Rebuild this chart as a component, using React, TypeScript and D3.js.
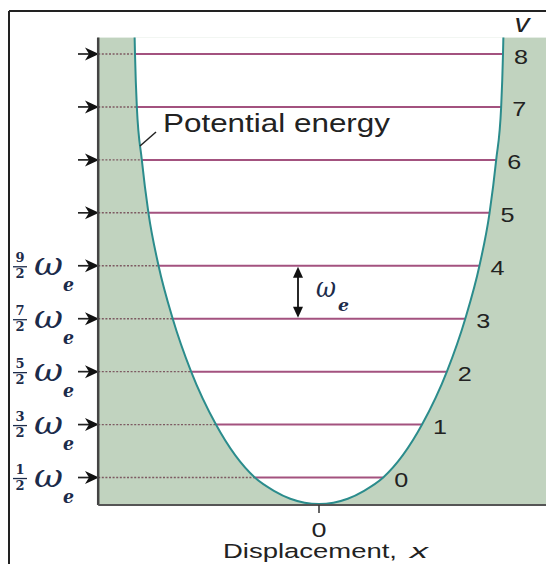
import React from "react";
import * as d3 from "d3";

// Vibrational quantum numbers and energies (in units of ω_e)
const levels = [0, 1, 2, 3, 4, 5, 6, 7, 8];
const fractionLabels = ["1", "3", "5", "7", "9"]; // numerators of (v + 1/2)

// Potential-energy wall: energy and half-width (displacement) of the well
const wallEnergy = [0, 0.1, 0.25, 0.5, 1.5, 2.5, 3.5, 4.5, 5.5, 6.5, 7.5, 8.5, 8.81];
const wallHalfWidth = [0, 0.156, 0.245, 0.349, 0.56, 0.695, 0.795, 0.872, 0.927, 0.963, 0.99, 1.0, 1.002];

const W = 546;
const H = 564;

const x = d3.scaleLinear().domain([-1, 1]).range([135, 503]);
const y = d3.scaleLinear().domain([0, 8.5]).range([504, 54]);

const X_MIN = -1.2;
const X_MAX = 1.24;
const E_TOP = 8.81;

const halfWidthAt = d3.scaleLinear().domain(wallEnergy).range(wallHalfWidth);

const INK = "#1c2b4a";
const SHADE = "#c1d3bf";
const WALL = "#2b8c8c";
const LEVEL = "#a3527f";

function Arrow({ yy }: { yy: number }) {
  const tip = 99;
  return (
    <g>
      <line x1={78} x2={92} y1={yy} y2={yy} stroke="#222" strokeWidth={1.7} />
      <path
        d={`M${tip},${yy} L${tip - 14},${yy - 6.5} L${tip - 10},${yy} L${tip - 14},${yy + 6.5} Z`}
        fill="#111"
      />
    </g>
  );
}

export default function App() {
  const wallPts: [number, number][] = [];
  for (let i = wallEnergy.length - 1; i >= 0; i--) {
    wallPts.push([-wallHalfWidth[i], wallEnergy[i]]);
  }
  for (let i = 1; i < wallEnergy.length; i++) {
    wallPts.push([wallHalfWidth[i], wallEnergy[i]]);
  }
  const line = d3
    .line<[number, number]>()
    .x((d) => x(d[0]))
    .y((d) => y(d[1]))
    .curve(d3.curveMonotoneX);
  const wallPath = line(wallPts) || "";

  return (
    <svg
      width={W}
      height={H}
      style={{ position: "absolute", left: 0, top: 0, background: "#fff" }}
      fontFamily="'Liberation Sans', Arial, sans-serif"
    >
      <rect x={0} y={0} width={W} height={H} fill="#fff" />
      {/* frame */}
      <line x1={9} x2={W} y1={11} y2={11} stroke="#222" strokeWidth={2} />
      <line x1={9} x2={9} y1={11} y2={H} stroke="#222" strokeWidth={2} />

      {/* shaded region outside the well */}
      <rect
        x={x(X_MIN)}
        y={y(E_TOP)}
        width={x(X_MAX) - x(X_MIN)}
        height={y(0) - y(E_TOP)}
        fill={SHADE}
      />
      <path d={wallPath + "Z"} fill="#fff" />

      {/* energy levels */}
      {levels.map((v) => {
        const E = v + 0.5;
        const hw = halfWidthAt(E);
        return (
          <g key={v}>
            <line
              x1={x(X_MIN)}
              x2={x(-hw)}
              y1={y(E)}
              y2={y(E)}
              stroke="#7d5a62"
              strokeWidth={1.4}
              strokeDasharray="2 1.6"
            />
            <line x1={x(-hw)} x2={x(hw)} y1={y(E)} y2={y(E)} stroke={LEVEL} strokeWidth={2} />
            <text
              x={x(hw) + 11}
              y={y(E) + 2}
              fontSize={21}
              dominantBaseline="central"
              textLength={14}
              lengthAdjust="spacingAndGlyphs"
              fill="#222"
            >
              {v}
            </text>
            <Arrow yy={y(E)} />
          </g>
        );
      })}

      {/* potential wall */}
      <path d={wallPath} fill="none" stroke={WALL} strokeWidth={2} />

      {/* axes */}
      <line x1={x(X_MIN)} x2={x(X_MIN)} y1={y(E_TOP)} y2={y(0) + 1} stroke="#444" strokeWidth={2.5} />
      <line x1={x(X_MIN)} x2={W} y1={y(0) + 1} y2={y(0) + 1} stroke="#555" strokeWidth={2} />
      <line x1={x(0)} x2={x(0)} y1={y(0) + 1} y2={y(0) + 9} stroke="#333" strokeWidth={1.5} />
      <text
        x={x(0)}
        y={537}
        fontSize={21}
        textAnchor="middle"
        textLength={15}
        lengthAdjust="spacingAndGlyphs"
        fill="#222"
      >
        0
      </text>
      <text x={223} y={558} fontSize={20.5} textLength={174} lengthAdjust="spacingAndGlyphs" fill="#222">
        Displacement,
      </text>
      <text
        x={410}
        y={558}
        fontSize={20.5}
        fontStyle="italic"
        textLength={18}
        lengthAdjust="spacingAndGlyphs"
        fill="#222"
      >
        x
      </text>

      {/* quantum number heading */}
      <text
        x={522}
        y={32}
        fontSize={26}
        fontStyle="italic"
        textAnchor="middle"
        textLength={15}
        lengthAdjust="spacingAndGlyphs"
        fill="#222"
      >
        v
      </text>

      {/* potential energy label */}
      <line x1={140} y1={146} x2={156} y2={132} stroke="#222" strokeWidth={1.5} />
      <text x={163} y={132} fontSize={25} textLength={227} lengthAdjust="spacingAndGlyphs" fill="#222">
        Potential energy
      </text>

      {/* energy labels (v + 1/2) ω_e */}
      {fractionLabels.map((num, i) => {
        const yy = y(i + 0.5);
        return (
          <g key={num} fontFamily="'DejaVu Serif', serif" fill={INK}>
            <text x={20} y={yy - 4} fontSize={13} fontWeight="bold" textAnchor="middle">
              {num}
            </text>
            <line x1={13} x2={27} y1={yy + 1} y2={yy + 1} stroke={INK} strokeWidth={1.3} />
            <text x={20} y={yy + 12} fontSize={13} fontWeight="bold" textAnchor="middle">
              2
            </text>
            <text
              x={34}
              y={yy + 9}
              fontSize={31}
              fontStyle="italic"
              textLength={29}
              lengthAdjust="spacingAndGlyphs"
            >
              ω
            </text>
            <text
              x={63}
              y={yy + 25}
              fontSize={18}
              fontStyle="italic"
              fontWeight="bold"
              textLength={11}
              lengthAdjust="spacingAndGlyphs"
            >
              e
            </text>
          </g>
        );
      })}

      {/* spacing indicator between levels 3 and 4 */}
      {(() => {
        const yTop = y(4.5) + 1;
        const yBot = y(3.5) - 1;
        const ax = 298;
        return (
          <g>
            <line x1={ax} x2={ax} y1={yTop + 6} y2={yBot - 6} stroke="#111" strokeWidth={1.8} />
            <path d={`M${ax},${yTop} L${ax - 5},${yTop + 11} L${ax + 5},${yTop + 11} Z`} fill="#111" />
            <path d={`M${ax},${yBot} L${ax - 5},${yBot - 11} L${ax + 5},${yBot - 11} Z`} fill="#111" />
            <g fontFamily="'DejaVu Serif', serif" fill={INK}>
              <text x={316} y={297} fontSize={27} fontStyle="italic" textLength={20} lengthAdjust="spacingAndGlyphs">
                ω
              </text>
              <text
                x={338}
                y={311}
                fontSize={17}
                fontStyle="italic"
                fontWeight="bold"
                textLength={11}
                lengthAdjust="spacingAndGlyphs"
              >
                e
              </text>
            </g>
          </g>
        );
      })()}
    </svg>
  );
}
